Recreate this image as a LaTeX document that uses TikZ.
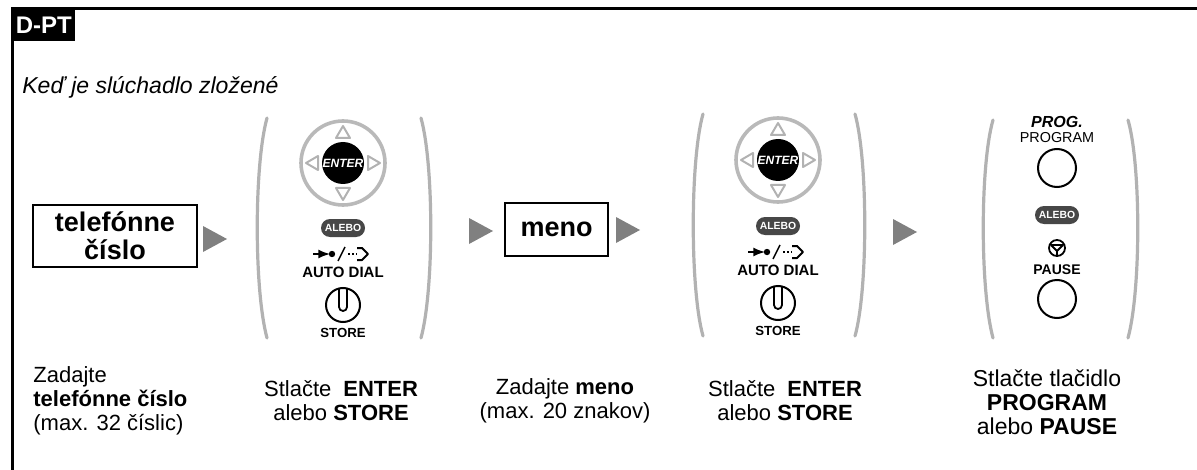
\documentclass[tikz,border=0pt]{standalone}
\usepackage{fontspec}
\setmainfont{Liberation Sans}
\usetikzlibrary{calc}

\begin{document}
\begin{tikzpicture}[x=0.5pt,y=-0.5pt,
    keybox/.style={draw, line width=1pt, align=center, font=\fontsize{13.5}{14}\selectfont\bfseries},
    bracket/.style={draw=gray!60, line width=1.6pt, line cap=round},
    navring/.style={draw=gray!55, line width=1.8pt},
    navtip/.style={draw=gray!60, line width=1pt, line join=round},
    keyring/.style={draw, line width=1pt},
    alebo/.style={fill=black!72, text=white, rounded corners=4.5pt, inner sep=0pt,
      minimum width=22pt, minimum height=9pt, font=\fontsize{5.2}{5}\selectfont\bfseries},
    keylabel/.style={inner sep=0pt, font=\fontsize{7.5}{7}\selectfont\bfseries},
    steptext/.style={align=center, inner sep=0pt, font=\fontsize{11}{12}\selectfont}]
      \useasboundingbox (0,0) rectangle (1197,470);

      % CADRE
      \draw[line width=1.5pt] (12,470) -- (12,9) -- (1197,9);
      \node[fill=black, text=white, inner sep=0pt, minimum width=31.5pt, minimum height=16pt,
        anchor=north west, font=\fontsize{12}{12}\selectfont\bfseries] (dpt) at (12,9) {D-PT};
      \node[anchor=base west, inner sep=0pt, font=\fontsize{11.5}{14}\selectfont\itshape] (head) at (22,94)
        {Keď je slúchadlo zložené};

      % CASES
      \node[keybox, minimum width=82pt, minimum height=31pt] (tel) at (115,236) {telefónne\\číslo};
      \node[keybox, minimum width=51.5pt, minimum height=26.5pt] (meno) at (556.5,229.5) {meno};

      % FLECHES
      \fill[gray] (203,226) -- (227,239) -- (203,252) -- cycle;
      \fill[gray] (469,218) -- (493,231) -- (469,244) -- cycle;
      \fill[gray] (616,217) -- (640,230) -- (616,243) -- cycle;
      \fill[gray] (893,219) -- (917,232) -- (893,245) -- cycle;

      % ENTER / STORE GAUCHE
      \begin{scope}[shift={(343,0)}]
        \draw[bracket] (-76,118) .. controls (-89,165) and (-89,290) .. (-76,338);
        \draw[bracket] (78,118) .. controls (91,165) and (91,290) .. (78,338);
        \draw[navring] (0,163) circle (42);
        \draw[navtip] (0,126) -- (-7,138) -- (7,138) -- cycle;
        \draw[navtip] (0,200) -- (-7,188) -- (7,188) -- cycle;
        \draw[navtip] (-37,163) -- (-25,156) -- (-25,170) -- cycle;
        \draw[navtip] (37,163) -- (25,156) -- (25,170) -- cycle;
        \fill (0,163) circle (21);
        \node[text=white, inner sep=0pt, font=\fontsize{6}{6}\selectfont\bfseries\itshape] (enter) at (0,163) {ENTER};
        \node[alebo] (or1) at (0,228) {ALEBO};
        \draw[line width=1pt, -latex] (-30,254) -- (-13,254);
        \fill (-11,254) circle (3.2);
        \draw[line width=0.7pt] (-5,261) -- (2,247);
        \draw[line width=1pt, densely dotted] (5,254) -- (14,254);
        \draw[line width=1pt, line join=round] (14,248) -- (19,248) -- (25,254) -- (19,260) -- (14,260);
        \node[keylabel] (auto) at (0,272) {AUTO DIAL};
        \draw[keyring] (0,305) circle (17);
        \draw[line width=0.9pt] (-4,288) -- (-4,307) arc (180:0:4) -- (4,288);
        \node[keylabel, font=\fontsize{6.6}{6}\selectfont\bfseries] (store) at (0,333) {STORE};
      \end{scope}

      % ENTER / STORE DROIT
      \begin{scope}[shift={(778,0)}]
        \draw[bracket] (-75,114) .. controls (-88,160) and (-88,290) .. (-75,336);
        \draw[bracket] (77,114) .. controls (90,160) and (90,290) .. (77,336);
        \draw[navring] (0,160) circle (42);
        \draw[navtip] (0,123) -- (-7,135) -- (7,135) -- cycle;
        \draw[navtip] (0,197) -- (-7,185) -- (7,185) -- cycle;
        \draw[navtip] (-37,160) -- (-25,153) -- (-25,167) -- cycle;
        \draw[navtip] (37,160) -- (25,153) -- (25,167) -- cycle;
        \fill (0,160) circle (21);
        \node[text=white, inner sep=0pt, font=\fontsize{6}{6}\selectfont\bfseries\itshape] (enter2) at (0,160) {ENTER};
        \node[alebo] (or2) at (0,226) {ALEBO};
        \draw[line width=1pt, -latex] (-30,252) -- (-13,252);
        \fill (-11,252) circle (3.2);
        \draw[line width=0.7pt] (-5,259) -- (2,245);
        \draw[line width=1pt, densely dotted] (5,252) -- (14,252);
        \draw[line width=1pt, line join=round] (14,246) -- (19,246) -- (25,252) -- (19,258) -- (14,258);
        \node[keylabel] (auto2) at (0,270) {AUTO DIAL};
        \draw[keyring] (0,303) circle (17);
        \draw[line width=0.9pt] (-4,286) -- (-4,305) arc (180:0:4) -- (4,286);
        \node[keylabel, font=\fontsize{6.6}{6}\selectfont\bfseries] (store2) at (0,331) {STORE};
      \end{scope}

      % PROGRAM / PAUSE
      \begin{scope}[shift={(1059,0)}]
        \draw[bracket] (-66,120) .. controls (-79,165) and (-79,290) .. (-66,338);
        \draw[bracket] (69,120) .. controls (82,165) and (82,290) .. (69,338);
        \node[keylabel, font=\fontsize{8}{7}\selectfont\bfseries\itshape] (prog) at (-2,122) {PROG.};
        \node[keylabel, font=\fontsize{7.2}{6.5}\selectfont] (program) at (-2,138) {PROGRAM};
        \draw[keyring] (-2,168) circle (19);
        \node[alebo] (or3) at (-2,215) {ALEBO};
        \draw[line width=0.9pt] (-2,248) circle (8);
        \draw[line width=0.9pt, line join=round] (-8,245) -- (4,245) -- (-2,251) -- cycle (-2,251) -- (-2,256);
        \node[keylabel, font=\fontsize{7}{6}\selectfont\bfseries] (pause) at (-2,270) {PAUSE};
        \draw[keyring] (-2,299) circle (19);
      \end{scope}

      % TEXTES
      \node[steptext, align=left, anchor=west] (txt1) at (33,401)
        {Zadajte\\\textbf{telefónne číslo}\\(max. 32 číslic)};
      \node[steptext] (txt2) at (341,401) {Stlačte\hspace{6pt}\textbf{ENTER}\\alebo \textbf{STORE}};
      \node[steptext] (txt3) at (565,401) {Zadajte \textbf{meno}\\(max. 20 znakov)};
      \node[steptext] (txt4) at (785,401) {Stlačte\hspace{6pt}\textbf{ENTER}\\alebo \textbf{STORE}};
      \node[steptext, font=\fontsize{11.5}{12}\selectfont] (txt5) at (1047,402)
        {Stlačte tlačidlo\\\textbf{PROGRAM}\\alebo \textbf{PAUSE}};
\end{tikzpicture}
\end{document}
